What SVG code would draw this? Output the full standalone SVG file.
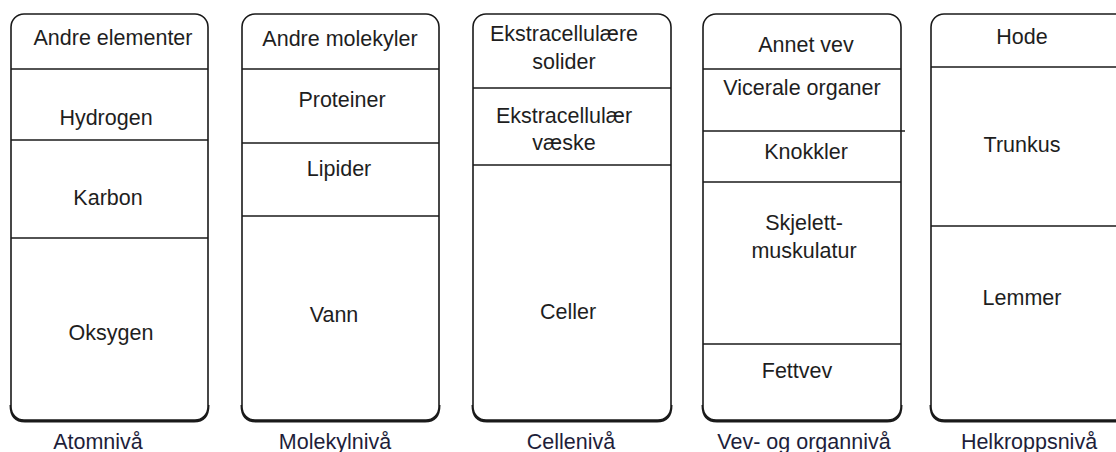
<svg xmlns="http://www.w3.org/2000/svg" width="1116" height="452" viewBox="0 0 1116 452">
<defs>
<style>
.box{fill:#fff;stroke:#1a1a1a;stroke-width:1.6}
.shadow{fill:none;stroke:#1a1a1a;stroke-width:3}
.div{stroke:#1a1a1a;stroke-width:1.5}
text{font-family:"Liberation Sans",Arial,sans-serif;font-size:21.5px;fill:#1e1e1e;text-anchor:middle}
.lbl{fill:#1e1e3a}
</style>
</defs>
<rect width="1116" height="452" fill="#fff"/>
<g id="atom">
<path class="shadow" d="M11 405 Q11 421 25 421 L194 421 Q208 421 208 405"/>
<rect class="box" x="11" y="14" width="197" height="406" rx="13"/>
<line class="div" x1="11" y1="69" x2="208" y2="69"/>
<line class="div" x1="11" y1="140" x2="208" y2="140"/>
<line class="div" x1="11" y1="238" x2="208" y2="238"/>
<text x="113" y="45">Andre elementer</text>
<text x="106" y="125">Hydrogen</text>
<text x="108" y="205">Karbon</text>
<text x="111" y="340">Oksygen</text>
<text class="lbl" x="98" y="449">Atomnivå</text>
</g>
<g id="molekyl">
<path class="shadow" d="M242 405 Q242 421 256 421 L425 421 Q439 421 439 405"/>
<rect class="box" x="242" y="14" width="197" height="406" rx="13"/>
<line class="div" x1="242" y1="69" x2="439" y2="69"/>
<line class="div" x1="242" y1="143" x2="439" y2="143"/>
<line class="div" x1="242" y1="216" x2="439" y2="216"/>
<text x="340" y="46">Andre molekyler</text>
<text x="342" y="107">Proteiner</text>
<text x="339" y="176">Lipider</text>
<text x="334" y="322">Vann</text>
<text class="lbl" x="335" y="449">Molekylnivå</text>
</g>
<g id="celle">
<path class="shadow" d="M473 405 Q473 421 487 421 L657 421 Q671 421 671 405"/>
<rect class="box" x="473" y="14" width="198" height="406" rx="13"/>
<line class="div" x1="473" y1="88" x2="671" y2="88"/>
<line class="div" x1="473" y1="165" x2="671" y2="165"/>
<text x="564" y="41">Ekstracellulære</text>
<text x="564" y="69">solider</text>
<text x="564" y="123">Ekstracellulær</text>
<text x="564" y="150">væske</text>
<text x="568" y="319">Celler</text>
<text class="lbl" x="571" y="449">Cellenivå</text>
</g>
<g id="vev">
<path class="shadow" d="M703 405 Q703 421 717 421 L887 421 Q901 421 901 405"/>
<rect class="box" x="703" y="14" width="198" height="406" rx="13"/>
<line class="div" x1="703" y1="69" x2="901" y2="69"/>
<line class="div" x1="703" y1="131" x2="905" y2="131"/>
<line class="div" x1="703" y1="182" x2="901" y2="182"/>
<line class="div" x1="703" y1="344" x2="901" y2="344"/>
<text x="806" y="52">Annet vev</text>
<text x="802" y="95">Vicerale organer</text>
<text x="806" y="159">Knokkler</text>
<text x="804" y="230">Skjelett-</text>
<text x="804" y="258">muskulatur</text>
<text x="797" y="378">Fettvev</text>
<text class="lbl" x="804" y="449">Vev- og organnivå</text>
</g>
<g id="helkropp">
<path class="shadow" d="M931 405 Q931 421 945 421 L1130 421"/>
<rect class="box" x="931" y="14" width="210" height="406" rx="13"/>
<line class="div" x1="931" y1="67" x2="1116" y2="67"/>
<line class="div" x1="931" y1="226" x2="1116" y2="226"/>
<text x="1022" y="44">Hode</text>
<text x="1022" y="152">Trunkus</text>
<text x="1022" y="305">Lemmer</text>
<text class="lbl" x="1029" y="449">Helkroppsnivå</text>
</g>
<g id="connectors"/>
</svg>
